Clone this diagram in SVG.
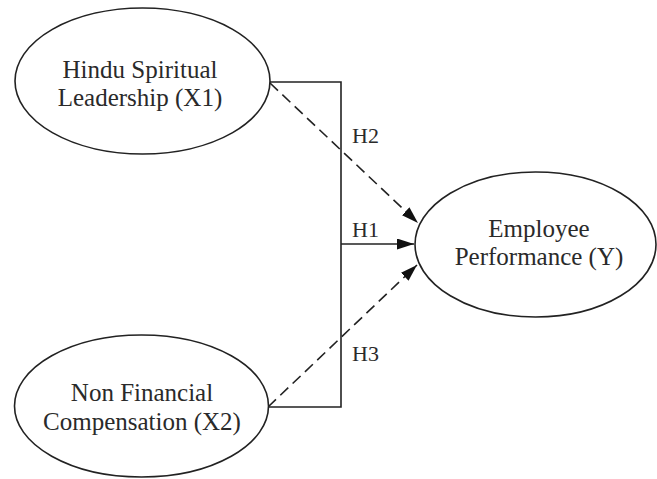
<svg xmlns="http://www.w3.org/2000/svg" width="657" height="479" viewBox="0 0 657 479">
  <defs>
    <marker id="arrow" viewBox="0 0 17 11" refX="17" refY="5.5" markerWidth="17" markerHeight="11" markerUnits="userSpaceOnUse" orient="auto">
      <path d="M0,0 L17,5.5 L0,11 Z" fill="#111"/>
    </marker>
  </defs>
  <style>
    .node ellipse { fill: #fff; stroke: #222; stroke-width: 1.6; }
    .node text { font-family: "Liberation Serif", "Times New Roman", serif; font-size: 25px; fill: #2a2a2a; text-anchor: middle; }
    .conn { fill: none; stroke: #222; stroke-width: 1.6; }
    .dash { stroke-dasharray: 11 6; }
    .lbl { font-family: "Liberation Serif", "Times New Roman", serif; font-size: 22px; fill: #2a2a2a; }
  </style>
  <rect width="657" height="479" fill="#fff"/>

  <g id="connectors">
    <!-- bracket joining X1 and X2 for the joint path -->
    <polyline class="conn" points="270,82 341,82 341,407 268,407"/>
    <!-- H1: joint effect -->
    <line class="conn" x1="341" y1="244" x2="414" y2="244" marker-end="url(#arrow)"/>
    <!-- H2: X1 to Y -->
    <line class="conn dash" x1="270" y1="83" x2="418" y2="223" marker-end="url(#arrow)"/>
    <!-- H3: X2 to Y -->
    <line class="conn dash" x1="268" y1="407" x2="417" y2="265" marker-end="url(#arrow)"/>
    <text class="lbl" x="352" y="143">H2</text>
    <text class="lbl" x="352" y="237">H1</text>
    <text class="lbl" x="352" y="361">H3</text>
  </g>

  <g id="x1" class="node">
    <ellipse cx="142.5" cy="81" rx="127.5" ry="73"/>
    <text x="140" y="78">Hindu Spiritual</text>
    <text x="140" y="106">Leadership (X1)</text>
  </g>

  <g id="x2" class="node">
    <ellipse cx="141.5" cy="406" rx="127" ry="71"/>
    <text x="142" y="401">Non Financial</text>
    <text x="142" y="430">Compensation (X2)</text>
  </g>

  <g id="y" class="node">
    <ellipse cx="535.5" cy="244.5" rx="120.5" ry="72.5"/>
    <text x="539" y="237">Employee</text>
    <text x="539" y="265">Performance (Y)</text>
  </g>
</svg>
